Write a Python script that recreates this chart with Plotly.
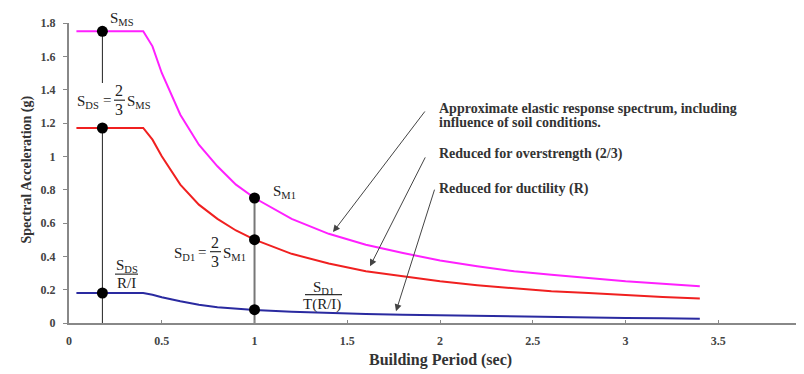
import plotly.graph_objects as go

# ---- data ----
period = [0.04, 0.40, 0.45, 0.50, 0.60, 0.70, 0.80, 0.90, 1.00, 1.20, 1.40, 1.60,
          1.80, 2.00, 2.20, 2.40, 2.60, 2.80, 3.00, 3.20, 3.40]
elastic = [1.75, 1.75, 1.66, 1.50, 1.25, 1.07, 0.94, 0.83, 0.75, 0.625, 0.535, 0.47,
           0.42, 0.375, 0.34, 0.31, 0.29, 0.27, 0.25, 0.235, 0.22]
overstrength = [1.17, 1.17, 1.10, 1.00, 0.83, 0.71, 0.625, 0.555, 0.50, 0.415, 0.357, 0.31,
                0.28, 0.25, 0.227, 0.208, 0.19, 0.18, 0.167, 0.156, 0.147]
ductility = [0.18, 0.18, 0.17, 0.155, 0.13, 0.11, 0.095, 0.085, 0.078, 0.068, 0.06, 0.054,
             0.05, 0.046, 0.042, 0.039, 0.036, 0.033, 0.03, 0.028, 0.025]

marker_T = [0.18, 0.18, 0.18, 1.0, 1.0, 1.0]
marker_Sa = [1.75, 1.17, 0.18, 0.75, 0.50, 0.08]

x_ticks = [0, 0.5, 1, 1.5, 2, 2.5, 3, 3.5]
x_tick_labels = ["0", "0.5", "1", "1.5", "2", "2.5", "3", "3.5"]
y_ticks = [0, 0.2, 0.4, 0.6, 0.8, 1.0, 1.2, 1.4, 1.6, 1.8]
y_tick_labels = ["0", "0.2", "0.4", "0.6", "0.8", "1", "1.2", "1.4", "1.6", "1.8"]

# ---- layout geometry (page pixels; the page body adds an 8px offset) ----
OFF = 8
W, H = 804, 374
PL, PT, PRX, PBY = 69, 16, 800, 323       # plot area on the page
PW, PH = PRX - PL, PBY - PT
XMAX, YMAX = 3.94, 1.8
SERIF = "Liberation Serif, Times New Roman, serif"


def xp(px):
    return (px - PL) / PW


def yp(py):
    return (PBY - py) / PH


def xd(px):
    return (px - PL) / PW * XMAX


def yd(py):
    return (PBY - py) / PH * YMAX


fig = go.Figure()

# vertical reference lines
fig.add_trace(go.Scatter(x=[marker_T[0], marker_T[0]], y=[marker_Sa[0], 1.44], mode="lines",
                         line=dict(color="#222", width=1), hoverinfo="skip", showlegend=False))
fig.add_trace(go.Scatter(x=[marker_T[1], marker_T[1]], y=[marker_Sa[1], 0], mode="lines",
                         line=dict(color="#222", width=1), hoverinfo="skip", showlegend=False))
fig.add_trace(go.Scatter(x=[marker_T[3], marker_T[3]], y=[marker_Sa[3], 0], mode="lines",
                         line=dict(color="#777", width=2), hoverinfo="skip", showlegend=False))

fig.add_trace(go.Scatter(x=period, y=elastic, mode="lines",
                         line=dict(color="#ff20ff", width=2), showlegend=False))
fig.add_trace(go.Scatter(x=period, y=overstrength, mode="lines",
                         line=dict(color="#f02020", width=2), showlegend=False))
fig.add_trace(go.Scatter(x=period, y=ductility, mode="lines",
                         line=dict(color="#2a2aa0", width=2), showlegend=False))

fig.add_trace(go.Scatter(x=marker_T, y=marker_Sa, mode="markers",
                         marker=dict(color="black", size=11), showlegend=False))

ann = []
shapes = []


def txt(px, py, text, size=15, xanchor="center", color="#222"):
    ann.append(dict(x=xp(px), y=yp(py), xref="paper", yref="paper", text=text,
                    showarrow=False, xanchor=xanchor, yanchor="middle",
                    font=dict(family=SERIF, size=size, color=color)))


def bar(x0, x1, py):
    shapes.append(dict(type="line", xref="paper", yref="paper", x0=xp(x0), x1=xp(x1),
                       y0=yp(py), y1=yp(py), line=dict(color="#333", width=1.2)))


# S_MS
txt(122, 12, "S<sub>MS</sub>")
# S_DS = 2/3 S_MS
txt(88, 97, "S<sub>DS</sub>")
txt(107, 95, "=")
txt(119, 85, "2", 16)
bar(114, 125, 95)
txt(119, 105, "3", 16)
txt(125, 97, "S<sub>MS</sub>", xanchor="left")
# S_M1
txt(271, 189, "S<sub>M1</sub>", xanchor="left")
# S_D1 = 2/3 S_M1
txt(184, 252, "S<sub>D1</sub>")
txt(202, 250, "=")
txt(215, 241, "2", 16)
bar(210, 221, 250)
txt(215, 260, "3", 16)
txt(221, 252, "S<sub>M1</sub>", xanchor="left")
# S_DS / (R/I)
txt(127, 265, "S<sub>DS</sub>")
bar(115, 138, 273)
txt(126, 282, "R/I")
# S_D1 / T(R/I)
txt(323, 287, "S<sub>D1</sub>")
bar(305, 342, 294)
txt(322, 304, "T(R/I)")

# right-hand descriptive labels
lab_font = dict(family=SERIF, size=14, color="#333")
for py, t in [(104, "<b>Approximate elastic response spectrum, including</b>"),
              (118, "<b>influence of soil conditions.</b>"),
              (150, "<b>Reduced for overstrength (2/3)</b>"),
              (186, "<b>Reduced for ductility (R)</b>")]:
    ann.append(dict(x=xp(437), y=yp(py), xref="paper", yref="paper", text=t, showarrow=False,
                    xanchor="left", yanchor="middle", font=lab_font))

# arrows (head, tail) in page pixels
for (hx, hy), (tx, ty) in [((333, 230), (426, 105)),
                           ((370, 265), (426, 152)),
                           ((396, 311), (435, 185))]:
    ann.append(dict(x=xd(hx), y=yd(hy), xref="x", yref="y", ax=xd(tx), ay=yd(ty),
                    axref="x", ayref="y", text="", showarrow=True, arrowhead=2,
                    arrowsize=1.4, arrowwidth=1, arrowcolor="#444"))

# axis titles
ann.append(dict(x=xp(440), y=yp(361), xref="paper", yref="paper",
                xanchor="center", yanchor="middle",
                text="<b>Building Period (sec)</b>", showarrow=False,
                font=dict(family=SERIF, size=16, color="#333")))
ann.append(dict(x=xp(27), y=yp(166), xref="paper", yref="paper",
                xanchor="center", yanchor="middle",
                text="<b>Spectral Acceleration (g)</b>", showarrow=False, textangle=-90,
                font=dict(family=SERIF, size=14, color="#333")))

fig.update_layout(
    width=W, height=H,
    margin=dict(l=PL - OFF, r=W - (PRX - OFF), t=PT - OFF, b=H - (PBY - OFF)),
    paper_bgcolor="white", plot_bgcolor="white",
    annotations=ann, shapes=shapes,
    xaxis=dict(range=[0, XMAX], tickvals=x_ticks, ticktext=[f"<b>{s}</b>" for s in x_tick_labels],
               showgrid=False, zeroline=False, showline=True, linecolor="#888", linewidth=2,
               ticks="inside", ticklen=3, tickcolor="#888", ticklabelstandoff=6,
               tickfont=dict(family=SERIF, size=12, color="#444")),
    yaxis=dict(range=[0, YMAX], tickvals=y_ticks, ticktext=[f"<b>{s}</b>" for s in y_tick_labels],
               showgrid=False, zeroline=False, showline=True, linecolor="#888", linewidth=2,
               ticks="outside", ticklen=4, tickcolor="#888", ticklabelstandoff=5,
               tickfont=dict(family=SERIF, size=12, color="#444")),
)

fig.write_html("out.html")
